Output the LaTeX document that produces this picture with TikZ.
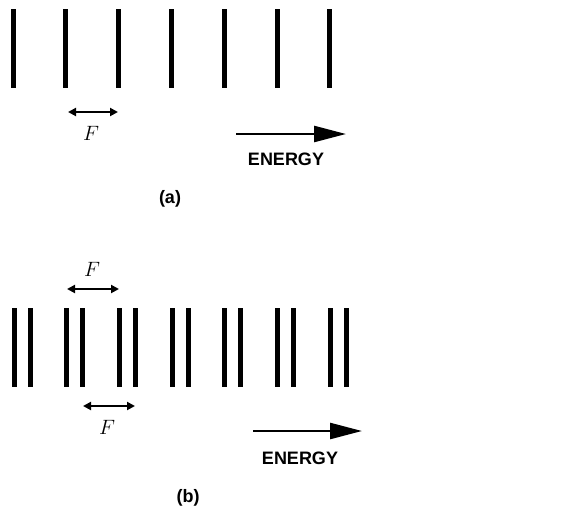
\documentclass[tikz,border=0pt]{standalone}
\usepackage{fontspec}
\setsansfont{Liberation Sans}
\usetikzlibrary{arrows.meta, positioning}

\begin{document}
\begin{tikzpicture}[x=1pt, y=-1pt,
  level/.style={line width=5pt},
  span/.style={{Triangle[length=8pt,width=8pt]}-{Triangle[length=8pt,width=8pt]}, line width=2.2pt},
  flow/.style={-{Triangle[length=32pt,width=16pt]}, line width=2.5pt},
  lbl/.style={font=\sffamily\bfseries\fontsize{18}{21}\selectfont, inner sep=0pt},
  tag/.style={font=\sffamily\bfseries\fontsize{18}{21}\selectfont, inner sep=0pt},
  sym/.style={font=\fontsize{21}{25}\selectfont, inner sep=0pt}]
  \useasboundingbox (0,0) rectangle (578,509);
  % (a) equally spaced levels
  \foreach \i in {0,...,6}
    \draw[level] ({13+52.8*\i},9) -- ({13+52.8*\i},88);
  \coordinate (fa1) at (68,112);
  \coordinate (fa2) at (118,112);
  \draw[span] (fa1) -- (fa2);
  \node[sym] (Fa) at (91,133) {$F$};
  \coordinate (ea1) at (236,134);
  \coordinate (ea2) at (346,134);
  \draw[flow] (ea1) -- (ea2);
  \node[lbl] (enA) at (286,159) {ENERGY};
  \node[tag] (tagA) at (170,199) {(a)};
  % (b) split levels
  \foreach \i in {0,...,6} {
    \draw[level] ({14+52.7*\i},308) -- ({14+52.7*\i},387);
    \draw[level] ({30+52.7*\i},308) -- ({30+52.7*\i},387);
  }
  \coordinate (fb1) at (67,289);
  \coordinate (fb2) at (119,289);
  \draw[span] (fb1) -- (fb2);
  \node[sym] (Fb) at (92,269) {$F$};
  \coordinate (fc1) at (83,406);
  \coordinate (fc2) at (135,406);
  \draw[span] (fc1) -- (fc2);
  \node[sym] (Fc) at (107,427) {$F$};
  \coordinate (eb1) at (253,431);
  \coordinate (eb2) at (362,431);
  \draw[flow] (eb1) -- (eb2);
  \node[lbl] (enB) at (300,458) {ENERGY};
  \node[tag] (tagB) at (188,498) {(b)};
\end{tikzpicture}
\end{document}
